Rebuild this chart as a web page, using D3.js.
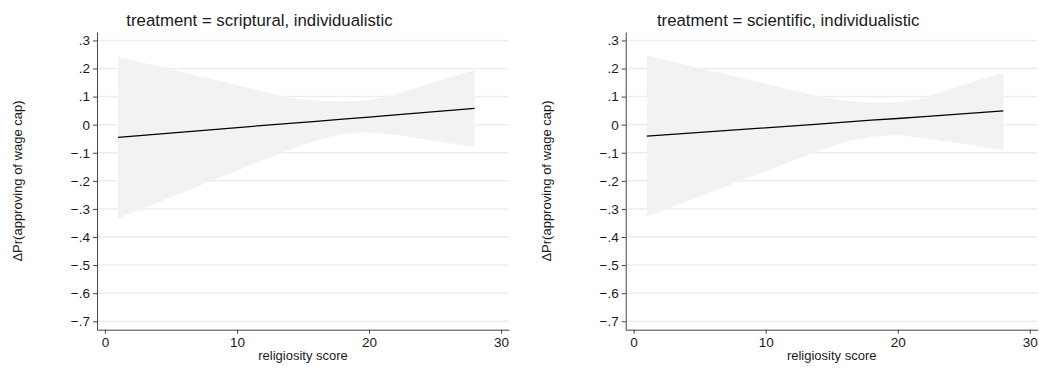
<!DOCTYPE html>
<html>
<head>
<meta charset="utf-8">
<script src="https://cdn.jsdelivr.net/npm/d3@7"></script>
<style>
  html, body { margin: 0; padding: 0; background: #fff; }
  svg { display: block; }
  text { font-family: "Liberation Sans", Arial, Helvetica, sans-serif; fill: #1a1a1a; }
</style>
</head>
<body>
<svg id="chart" width="1039" height="369"></svg>
<script>
// Religiosity values at which the margins were evaluated
const religiosity = [1, 14, 16, 18, 20, 22, 28];

// Panel titles
const panelTitles = [
  "treatment = scriptural, individualistic",
  "treatment = scientific, individualistic"
];

// Scriptural, individualistic: effect and 95% CI
const scripturalEffect = [-0.045, 0.005, 0.012, 0.020, 0.027, 0.035, 0.058];
const scripturalUpper  = [0.242, 0.095, 0.086, 0.082, 0.087, 0.108, 0.195];
const scripturalLower  = [-0.333, -0.088, -0.055, -0.033, -0.027, -0.036, -0.080];

// Scientific, individualistic: effect and 95% CI
const scientificEffect = [-0.041, 0.002, 0.009, 0.016, 0.022, 0.029, 0.049];
const scientificUpper  = [0.246, 0.100, 0.085, 0.078, 0.079, 0.097, 0.186];
const scientificLower  = [-0.327, -0.094, -0.062, -0.043, -0.038, -0.047, -0.090];

// Axis ticks
const xTicks = [0, 10, 20, 30];
const yTicks = [0.3, 0.2, 0.1, 0, -0.1, -0.2, -0.3, -0.4, -0.5, -0.6, -0.7];

const xTitle = "religiosity score";
const yTitle = "ΔPr(approving of wage cap)";

const panels = [
  { title: panelTitles[0], effect: scripturalEffect, upper: scripturalUpper, lower: scripturalLower },
  { title: panelTitles[1], effect: scientificEffect, upper: scientificUpper, lower: scientificLower }
];

const svg = d3.select("#chart");
const panelWidth = 528.7;

// Tick label format: leading zero dropped, true minus sign
function fmtY(v) {
  if (Math.abs(v) < 1e-9) return "0";
  let s = d3.format(".1f")(Math.abs(v)).replace(/^0/, "");
  return (v < 0 ? "\u2212" : "") + s;
}

panels.forEach((p, i) => {
  const ox = i * panelWidth;
  const g = svg.append("g").attr("transform", `translate(${ox},0)`);

  const x = d3.scaleLinear().domain([-0.6, 30.6]).range([97, 509]);
  const y = d3.scaleLinear().domain([-0.73, 0.33]).range([329.7, 32]);

  // Gridlines
  g.append("g").selectAll("line").data(yTicks).join("line")
    .attr("x1", x.range()[0]).attr("x2", x.range()[1])
    .attr("y1", d => y(d)).attr("y2", d => y(d))
    .attr("stroke", "#ededed").attr("stroke-width", 1.5);

  const rows = religiosity.map((r, k) => ({ r, e: p.effect[k], lo: p.lower[k], hi: p.upper[k] }));

  // Confidence band
  g.append("path").datum(rows)
    .attr("d", d3.area().x(d => x(d.r)).y0(d => y(d.lo)).y1(d => y(d.hi)))
    .attr("fill", "#f2f2f2");

  // Effect line
  g.append("path").datum(rows)
    .attr("d", d3.line().x(d => x(d.r)).y(d => y(d.e)))
    .attr("fill", "none").attr("stroke", "#000").attr("stroke-width", 1.3);

  // Y axis
  const yAxis = g.append("g").attr("transform", `translate(${x.range()[0]},0)`)
    .call(d3.axisLeft(y).tickValues(yTicks).tickFormat(fmtY).tickSize(4).tickPadding(3).tickSizeOuter(0));
  yAxis.select(".domain").attr("stroke", "#444");
  yAxis.selectAll(".tick line").attr("stroke", "#444");
  yAxis.selectAll(".tick text").attr("font-size", 13.5).attr("fill", "#1a1a1a")
    .attr("font-family", "Liberation Sans, Arial, sans-serif");

  // X axis
  const xAxis = g.append("g").attr("transform", `translate(0,${y.range()[0]})`)
    .call(d3.axisBottom(x).tickValues(xTicks).tickFormat(d3.format("d")).tickSize(4).tickPadding(4).tickSizeOuter(0));
  xAxis.select(".domain").attr("stroke", "#444");
  xAxis.selectAll(".tick line").attr("stroke", "#444");
  xAxis.selectAll(".tick text").attr("font-size", 13.5).attr("fill", "#1a1a1a")
    .attr("font-family", "Liberation Sans, Arial, sans-serif");

  // Panel title
  g.append("text").attr("x", 259.5).attr("y", 26)
    .attr("text-anchor", "middle").attr("font-size", 16.8).text(p.title);

  // Axis titles
  g.append("text").attr("x", (x.range()[0] + x.range()[1]) / 2).attr("y", 360)
    .attr("text-anchor", "middle").attr("font-size", 13).text(xTitle);
  g.append("text").attr("transform", "translate(17.5,181) rotate(-90)")
    .attr("dy", "0.35em").attr("text-anchor", "middle").attr("font-size", 13).text(yTitle);
});
</script>
</body>
</html>
